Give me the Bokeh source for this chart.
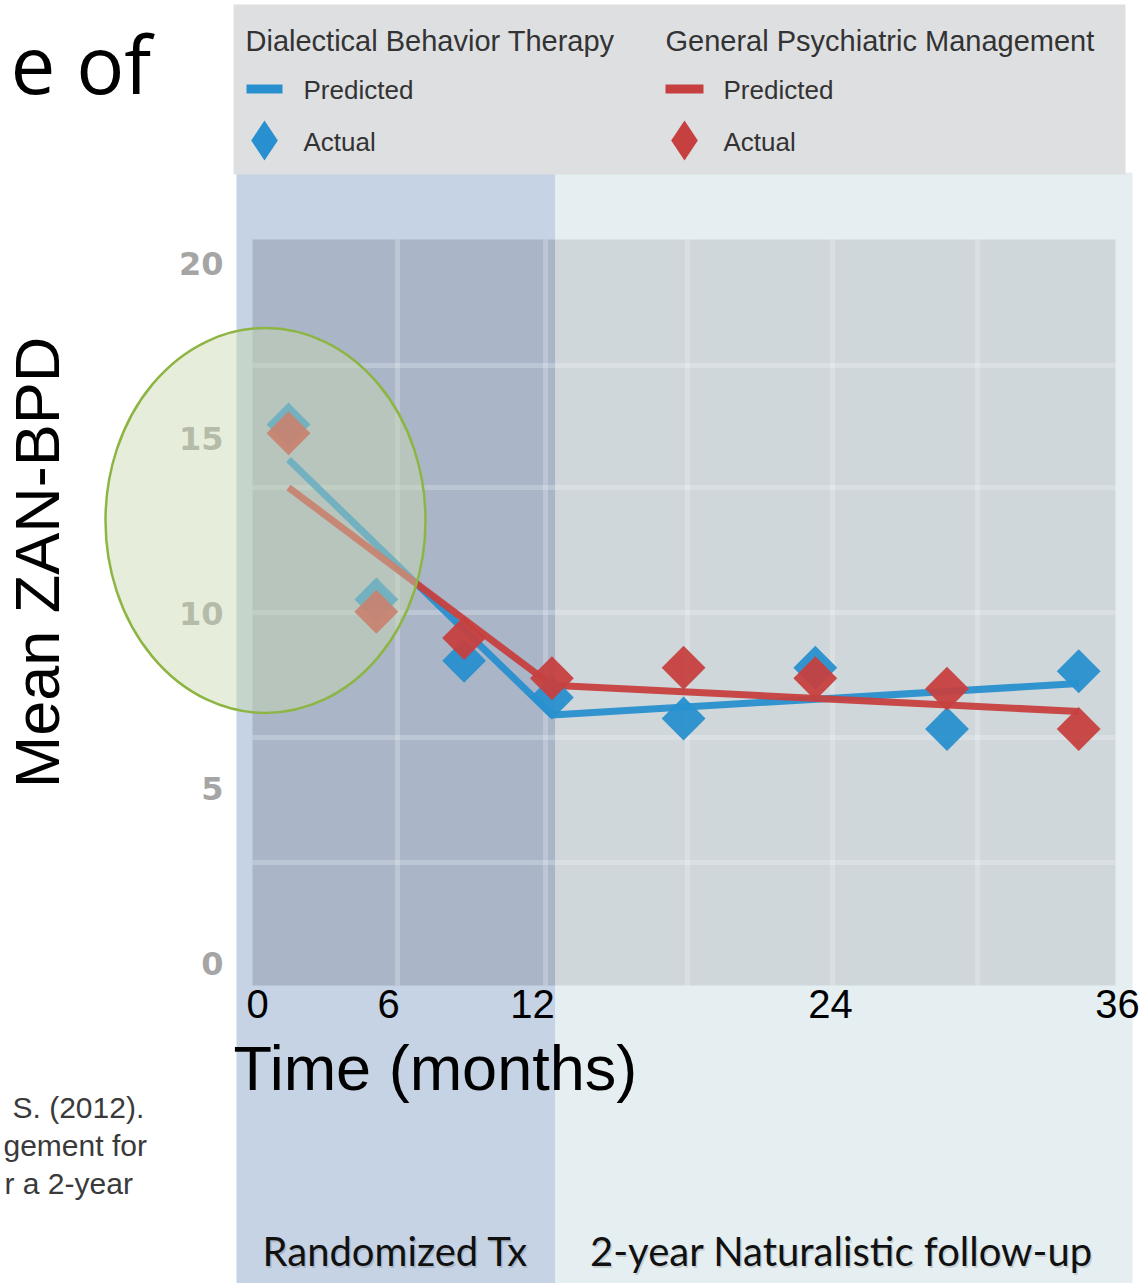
import numpy as np
from bokeh.plotting import figure
from bokeh.models import Range1d
from bokeh.core.properties import value
from bokeh.embed import file_html
from bokeh.resources import INLINE

# ---------------- data ----------------
months = [0, 4, 8, 12, 18, 24, 30, 36]
dbt_actual = [15.4, 10.4, 8.65, 7.6, 7.0, 8.45, 6.7, 8.35]
gpm_actual = [15.15, 10.05, 9.3, 8.15, 8.45, 8.15, 7.85, 6.7]
pred_months = [0, 12, 36]
dbt_pred = [14.4, 7.1, 8.0]
gpm_pred = [13.6, 7.95, 7.2]
y_ticks = [0, 5, 10, 15, 20]
x_tick_labels = ["0", "6", "12", "24", "36"]

# ---------------- layout (reference pixel geometry) ----------------
W, H = 1148, 1283
X0, KX = 288.0, 21.95     # screen x of month 0, px per month
Y0, KY = 963.0, 35.0      # screen y of score 0, px per unit


def dx(px):
    return (px - X0) / KX


def dy(py):
    return (Y0 - py) / KY


BLUE = "#2890cf"
RED = "#c6403f"

p = figure(width=W, height=H,
           x_range=Range1d(dx(0), dx(W)),
           y_range=Range1d(dy(H), dy(0)),
           output_backend="svg", toolbar_location=None,
           x_axis_location=None, y_axis_location=None,
           min_border=0)
p.min_border_left = p.min_border_right = p.min_border_top = p.min_border_bottom = 0
p.outline_line_color = None
p.background_fill_color = "white"
p.border_fill_color = "white"
for g in p.grid:
    g.visible = False

# slide title fragment
p.text(x=[dx(10)], y=[dy(62)], text=["e of"], text_font=value("Open Sans"),
       text_font_size="80px", text_color="black", text_align="left",
       text_baseline="middle")

# citation fragments
cit_text = ["S. (2012).", "gement for", "r a 2-year"]
cit_left = [12, 3, 4]
cit_mid = [1107, 1145, 1183]
p.text(x=[dx(v) for v in cit_left], y=[dy(v) for v in cit_mid], text=cit_text,
       text_font=value("Liberation Sans"), text_font_size="30px",
       text_color="#3a3a3a", text_align="left", text_baseline="middle")

# background bands
p.quad(left=[dx(236)], right=[dx(555)], top=[dy(170)], bottom=[dy(1300)],
       fill_color="#c5d3e4", line_color=None)
p.quad(left=[dx(555)], right=[dx(1132)], top=[dy(172)], bottom=[dy(1300)],
       fill_color="#e5eef1", line_color=None)

# legend box
p.quad(left=[dx(233)], right=[dx(1125)], top=[dy(4)], bottom=[dy(174)],
       fill_color="#dedfe1", line_color=None)

# plot panel
p.quad(left=[dx(252)], right=[dx(555)], top=[dy(239)], bottom=[dy(985)],
       fill_color="#aab6c8", line_color=None)
p.quad(left=[dx(555)], right=[dx(1115)], top=[dy(239)], bottom=[dy(985)],
       fill_color="#cfd7db", line_color=None)

grid_x = [397, 545, 687, 832, 977]
grid_y = [365, 487, 612, 737, 862]
p.segment(x0=[dx(g) for g in grid_x], y0=[dy(239)] * 5,
          x1=[dx(g) for g in grid_x], y1=[dy(985)] * 5,
          line_color="white", line_alpha=0.22, line_width=5)
p.segment(x0=[dx(252)] * 5, y0=[dy(g) for g in grid_y],
          x1=[dx(1115)] * 5, y1=[dy(g) for g in grid_y],
          line_color="white", line_alpha=0.22, line_width=5)

# data
p.line(pred_months, dbt_pred, line_color=BLUE, line_width=7, line_alpha=0.95)
p.line(pred_months, gpm_pred, line_color=RED, line_width=7, line_alpha=0.95)
p.scatter(months, dbt_actual, marker="square", angle=np.pi / 4, size=31,
          fill_color=BLUE, line_color=None, fill_alpha=0.95)
p.scatter(months, gpm_actual, marker="square", angle=np.pi / 4, size=31,
          fill_color=RED, line_color=None, fill_alpha=0.95)

# y tick labels
p.text(x=[dx(223)] * len(y_ticks), y=y_ticks, text=[str(t) for t in y_ticks],
       text_font=value("DejaVu Sans"), text_font_style="bold",
       text_font_size="32px", text_color="#a5a5a5", text_align="right",
       text_baseline="middle")

# highlight ellipse
p.ellipse(x=[dx(265)], y=[dy(520)], width=320 / KX, height=385 / KY,
          fill_color="#c8d6b0", fill_alpha=0.45, line_color="#8db543",
          line_width=2.5)

# legend content
LEG_FONT = value("Liberation Sans")
p.text(x=[dx(245), dx(665)], y=[dy(40), dy(40)],
       text=["Dialectical Behavior Therapy", "General Psychiatric Management"],
       text_font=LEG_FONT, text_font_size="29px", text_color="#333333",
       text_align="left", text_baseline="middle")
p.text(x=[dx(303), dx(303), dx(723), dx(723)],
       y=[dy(89), dy(141), dy(89), dy(141)],
       text=["Predicted", "Actual", "Predicted", "Actual"],
       text_font=LEG_FONT, text_font_size="26px", text_color="#333333",
       text_align="left", text_baseline="middle")
p.quad(left=[dx(246), dx(665)], right=[dx(282), dx(703)],
       top=[dy(84), dy(84)], bottom=[dy(93), dy(93)],
       fill_color=[BLUE, RED], line_color=None)
p.scatter(x=[dx(264), dx(684)], y=[dy(140), dy(140)], marker="diamond",
          size=40, fill_color=[BLUE, RED], line_color=None)

# x tick labels (slide overlay)
xl_pos = [257, 388, 532, 830, 1117]
p.text(x=[dx(v) for v in xl_pos], y=[dy(1003)] * len(xl_pos), text=x_tick_labels,
       text_font=value("Liberation Sans"), text_font_size="40px",
       text_color="black", text_align="center", text_baseline="middle")

# axis titles
p.text(x=[dx(233)], y=[dy(1067)], text=["Time (months)"],
       text_font=value("Liberation Sans"), text_font_size="63px",
       text_color="black", text_align="left", text_baseline="middle")
p.text(x=[dx(36)], y=[dy(562)], text=["Mean ZAN-BPD"], angle=np.pi / 2,
       text_font=value("Liberation Sans"), text_font_size="63px",
       text_color="black", text_align="center", text_baseline="middle")

# phase labels with faint shadow
phase_text = ["Randomized Tx", "2-year Naturalistic follow-up"]
phase_x = [395, 841]
p.text(x=[dx(v + 1.5) for v in phase_x], y=[dy(1252)] * 2, text=phase_text,
       text_font=value("Lato"), text_font_size="40px", text_color="black",
       text_alpha=0.15, text_align="center", text_baseline="middle")
p.text(x=[dx(v) for v in phase_x], y=[dy(1250)] * 2, text=phase_text,
       text_font=value("Lato"), text_font_size="40px", text_color="#111111",
       text_align="center", text_baseline="middle")

open("out.html", "w").write(file_html(p, INLINE))
